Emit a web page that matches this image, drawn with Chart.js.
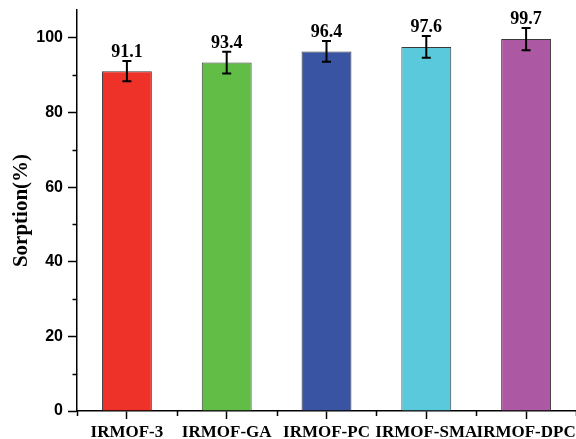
<!DOCTYPE html>
<html>
<head>
<meta charset="utf-8">
<script src="https://cdn.jsdelivr.net/npm/chart.js@4.4.0/dist/chart.umd.min.js"></script>
<style>
html,body{margin:0;padding:0;background:#fff;}
#wrap{width:576px;height:439px;position:relative;}
</style>
</head>
<body>
<div id="wrap"><canvas id="c" width="576" height="439"></canvas></div>
<script>
const categories = ['IRMOF-3', 'IRMOF-GA', 'IRMOF-PC', 'IRMOF-SMA', 'IRMOF-DPC'];
const values = [91.1, 93.4, 96.4, 97.6, 99.7];
const errors = [2.7, 2.9, 2.8, 2.9, 3.0];
const barColors = ['#EE3229', '#62BD47', '#3A54A4', '#5BC9DC', '#AC58A2'];
const yTicks = [0, 20, 40, 60, 80, 100];
const yMinorTicks = [10, 30, 50, 70, 90];
const yMax = 107.5;

const extrasPlugin = {
  id: 'extras',
  afterDatasetsDraw(chart) {
    const ctx = chart.ctx;
    const ys = chart.scales.y;
    const meta = chart.getDatasetMeta(0);
    ctx.save();
    meta.data.forEach((bar, i) => {
      const x = bar.x;
      const yt = ys.getPixelForValue(values[i] + errors[i]);
      const yb = ys.getPixelForValue(values[i] - errors[i]);
      ctx.strokeStyle = '#000';
      ctx.lineWidth = 2;
      ctx.beginPath();
      ctx.moveTo(x, yt); ctx.lineTo(x, yb);
      ctx.moveTo(x - 4.5, yt); ctx.lineTo(x + 4.5, yt);
      ctx.moveTo(x - 4.5, yb); ctx.lineTo(x + 4.5, yb);
      ctx.stroke();
      ctx.fillStyle = '#000';
      ctx.font = 'bold 18px "Liberation Serif", "Times New Roman", serif';
      ctx.textAlign = 'center';
      ctx.textBaseline = 'alphabetic';
      ctx.fillText(values[i].toFixed(1), x, yt - 4);
    });
    ctx.restore();
  },
  afterDraw(chart) {
    const ctx = chart.ctx;
    const ys = chart.scales.y;
    const xs = chart.scales.x;
    ctx.save();
    ctx.strokeStyle = '#000';
    ctx.lineWidth = 1.5;
    ctx.beginPath();
    yMinorTicks.forEach(v => {
      const y = Math.round(ys.getPixelForValue(v)) + 0.5;
      ctx.moveTo(xs.left - 4.5, y); ctx.lineTo(xs.left, y);
    });
    const w = (xs.right - xs.left) / categories.length;
    for (let i = 0; i <= categories.length; i++) {
      const x = Math.round(xs.left + i * w) + 0.5;
      ctx.moveTo(x, ys.bottom); ctx.lineTo(x, ys.bottom + 5);
    }
    ctx.stroke();
    ctx.restore();
  }
};

new Chart(document.getElementById('c'), {
  type: 'bar',
  data: {
    labels: categories,
    datasets: [{
      data: values,
      backgroundColor: barColors,
      borderColor: '#3a3a3a',
      borderWidth: 1,
      barPercentage: 0.5,
      categoryPercentage: 1.0
    }]
  },
  options: {
    responsive: false,
    animation: false,
    devicePixelRatio: 1,
    layout: { padding: { top: 10, right: 0, left: 0, bottom: 0 } },
    plugins: { legend: { display: false }, tooltip: { enabled: false } },
    scales: {
      x: {
        offset: true,
        grid: { display: true, drawOnChartArea: false, drawTicks: true, tickLength: 8, tickColor: '#000', tickWidth: 1.5, offset: false },
        border: { color: '#000', width: 1.5 },
        ticks: {
          color: '#000',
          font: { family: '"Liberation Serif", "Times New Roman", serif', size: 17, weight: 'bold' },
          autoSkip: false, maxRotation: 0, minRotation: 0, padding: 3
        },
        afterFit(scale) { scale.height = 28; scale.paddingLeft = 0; scale.paddingRight = 0; }
      },
      y: {
        min: 0, max: yMax,
        grid: { display: true, drawOnChartArea: false, drawTicks: true, tickLength: 9, tickColor: '#000', tickWidth: 1.5 },
        border: { color: '#000', width: 1.5 },
        ticks: {
          color: '#000',
          font: { family: '"Liberation Sans", Arial, sans-serif', size: 16, weight: 'bold' },
          padding: 5
        },
        afterBuildTicks(scale) { scale.ticks = yTicks.map(v => ({ value: v })); },
        title: {
          display: true, text: 'Sorption(%)', color: '#000',
          font: { family: '"Liberation Serif", "Times New Roman", serif', size: 21, weight: 'bold' },
          padding: { top: 9, bottom: 4 }
        },
        afterFit(scale) { scale.width = 77; scale.paddingTop = 0; scale.paddingBottom = 0; }
      }
    }
  },
  plugins: [extrasPlugin]
});
</script>
</body>
</html>
